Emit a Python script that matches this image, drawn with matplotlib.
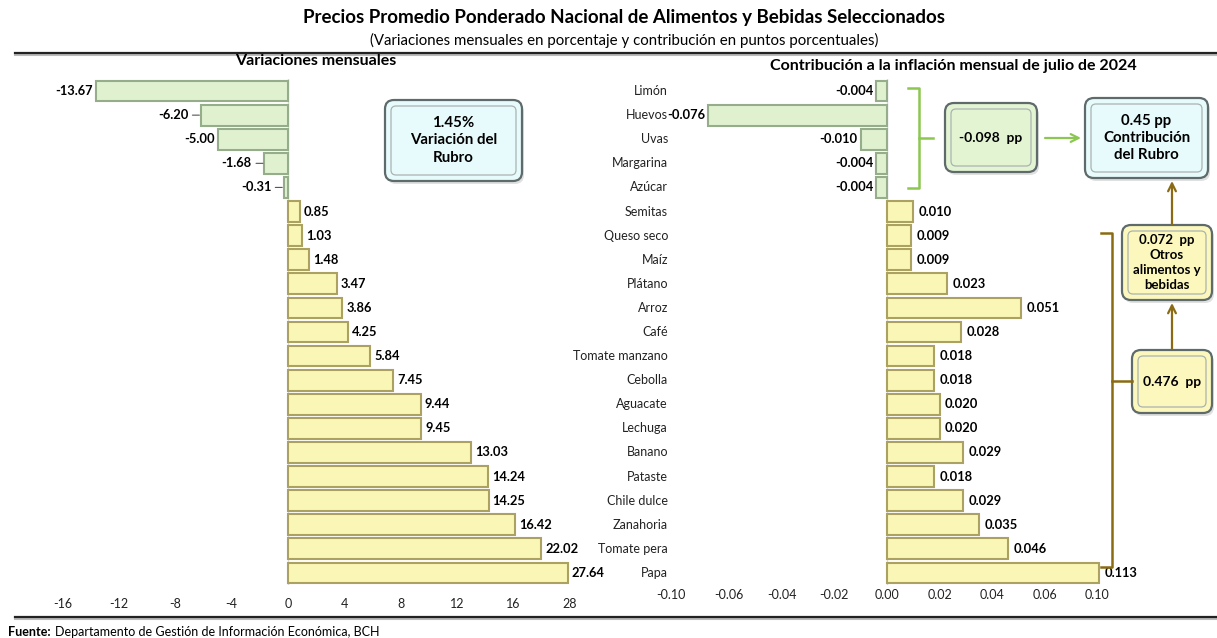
import numpy as np
import matplotlib
matplotlib.use('Agg')
import matplotlib.pyplot as plt
import matplotlib.transforms as mtransforms
from matplotlib.patches import FancyBboxPatch

plt.rcParams['font.family'] = ['Lato', 'DejaVu Sans']

# --- data ---
categories = ['Limón', 'Huevos', 'Uvas', 'Margarina', 'Azúcar', 'Semitas', 'Queso seco',
              'Maíz', 'Plátano', 'Arroz', 'Café', 'Tomate manzano', 'Cebolla', 'Aguacate',
              'Lechuga', 'Banano', 'Pataste', 'Chile dulce', 'Zanahoria', 'Tomate pera', 'Papa']
variacion = [-13.67, -6.20, -5.00, -1.68, -0.31, 0.85, 1.03, 1.48, 3.47, 3.86, 4.25, 5.84,
             7.45, 9.44, 9.45, 13.03, 14.24, 14.25, 16.42, 22.02, 27.64]
contribucion = [-0.004, -0.076, -0.010, -0.004, -0.004, 0.010, 0.009, 0.009, 0.023, 0.051,
                0.028, 0.018, 0.018, 0.020, 0.020, 0.029, 0.018, 0.029, 0.035, 0.046, 0.113]
var_ticks = [-16, -12, -8, -4, 0, 4, 8, 12, 16, 28]
con_ticks = [-0.10, -0.06, -0.04, -0.02, 0.00, 0.02, 0.04, 0.06, 0.10]

W, H = 1217, 638
fig = plt.figure(figsize=(W / 100, H / 100), dpi=100)

GREEN_FACE, GREEN_EDGE = '#e0f1d0', '#95ad8b'
YELLOW_FACE, YELLOW_EDGE = '#faf6b6', '#aba262'


def piecewise(xs, ys):
    xs = np.asarray(xs, float)
    ys = np.asarray(ys, float)
    return (lambda v: np.interp(v, xs, ys)), (lambda v: np.interp(v, ys, xs))


def rect(x0, y0, x1, y1):
    return [x0 / W, 1 - y1 / H, (x1 - x0) / W, (y1 - y0) / H]


def bars(ax, vals):
    for i, v in enumerate(vals):
        face, edge = (GREEN_FACE, GREEN_EDGE) if v < 0 else (YELLOW_FACE, YELLOW_EDGE)
        ax.barh(i, v, height=0.86, color=face, edgecolor=edge, linewidth=1.5, zorder=3)
    ax.set_ylim(len(vals) - 0.5, -0.5)
    ax.axvline(0, color='#d8d8d8', linewidth=1, zorder=1)
    for s in ax.spines.values():
        s.set_visible(False)
    ax.set_yticks([])
    ax.tick_params(axis='x', length=0, labelsize=9, colors='#222222')


# --- left panel: monthly variations ---
ax1 = fig.add_axes(rect(35, 79, 600, 585))
fwd, inv = piecewise([-100, 16, 22.02, 28, 100], [-100, 16, 18, 20, 44.08])
ax1.set_xscale('function', functions=(fwd, inv))
bars(ax1, variacion)
ax1.set_xlim(-17.98, 34.5)
ax1.set_xticks(var_ticks)
ax1.set_xticklabels([str(t) for t in var_ticks])
ax1.tick_params(axis='x', pad=9)

leader = {1, 3, 4}
for i, v in enumerate(variacion):
    if v < 0:
        if i in leader:
            ax1.annotate(f'{v:.2f}', xy=(v, i), xytext=(-9, 0), textcoords='offset points',
                         ha='right', va='center', fontsize=9.3, fontweight='bold',
                         arrowprops=dict(arrowstyle='-', color='#555555', lw=0.8,
                                         shrinkA=1, shrinkB=1, relpos=(1, 0.5)))
        else:
            ax1.annotate(f'{v:.2f}', xy=(v, i), xytext=(-2, 0), textcoords='offset points',
                         ha='right', va='center', fontsize=9.3, fontweight='bold')
    else:
        ax1.annotate(f'{v:.2f}', xy=(v, i), xytext=(3, 0), textcoords='offset points',
                     ha='left', va='center', fontsize=9.3, fontweight='bold')

# --- right panel: contribution ---
ax2 = fig.add_axes(rect(640, 79, 1135, 585))
fwd2, inv2 = piecewise([-1, -0.10, -0.076, -0.06, 0.06, 0.10, 0.113, 1],
                       [-0.604, -0.082, -0.068, -0.06, 0.06, 0.08, 0.0805, 0.116])
ax2.set_xscale('function', functions=(fwd2, inv2))
bars(ax2, contribucion)
ax2.set_xlim(-0.1205, 0.458)
ax2.set_xticks(con_ticks)
ax2.set_xticklabels([f'{t:.2f}' for t in con_ticks])
ax2.tick_params(axis='x', pad=3)

for i, v in enumerate(contribucion):
    if v < 0:
        ax2.annotate(f'{v:.3f}', xy=(v, i), xytext=(-2, 0), textcoords='offset points',
                     ha='right', va='center', fontsize=9.3, fontweight='bold')
    else:
        ax2.annotate(f'{v:.3f}', xy=(v, i), xytext=(4, 0), textcoords='offset points',
                     ha='left', va='center', fontsize=9.3, fontweight='bold')

trans = mtransforms.blended_transform_factory(fig.transFigure, ax2.transData)
for i, c in enumerate(categories):
    ax2.text(668 / W, i, c, transform=trans, ha='right', va='center', fontsize=9,
             color='#222222')

# --- overlay in pixel units for titles, boxes, brackets ---
ov = fig.add_axes([0, 0, 1, 1], zorder=10)
ov.set_xlim(0, W)
ov.set_ylim(H, 0)
ov.axis('off')
ov.patch.set_alpha(0)

ov.text(624, 18, 'Precios Promedio Ponderado Nacional de Alimentos y Bebidas Seleccionados',
        ha='center', va='center', fontsize=13.5, fontweight='bold')
ov.text(624, 40, '(Variaciones mensuales en porcentaje y contribución en puntos porcentuales)',
        ha='center', va='center', fontsize=10.8)
ov.text(316, 61, 'Variaciones mensuales', ha='center', va='center', fontsize=11.5,
        fontweight='bold')
ov.text(953, 66, 'Contribución a la inflación mensual de julio de 2024', ha='center',
        va='center', fontsize=11.5, fontweight='bold')

for yy in (53, 617):
    ov.plot([15, W], [yy + 1.5, yy + 1.5], color='#bbbbbb', lw=1.5)
    ov.plot([15, W], [yy, yy], color='#222222', lw=1.6)

ov.text(8, 632, 'Fuente:', ha='left', va='center', fontsize=9, fontweight='bold')
ov.text(55, 632, 'Departamento de Gestión de Información Económica, BCH', ha='left',
        va='center', fontsize=9)


def box(x0, y0, x1, y1, face, lines, fs=10.8):
    w, h = x1 - x0, y1 - y0
    ov.add_patch(FancyBboxPatch((x0 + 2, y0 + 3), w, h, boxstyle='round,pad=0,rounding_size=9',
                                facecolor='#000000', alpha=0.12, edgecolor='none'))
    ov.add_patch(FancyBboxPatch((x0, y0), w, h, boxstyle='round,pad=0,rounding_size=9',
                                facecolor=face, edgecolor='#5f6b6b', linewidth=1.6))
    ov.add_patch(FancyBboxPatch((x0 + 6, y0 + 6), w - 12, h - 12,
                                boxstyle='round,pad=0,rounding_size=5',
                                facecolor='none', edgecolor='#a9b3b0', linewidth=0.9))
    ov.text((x0 + x1) / 2, (y0 + y1) / 2, '\n'.join(lines), ha='center', va='center',
            fontsize=fs, fontweight='bold', linespacing=1.3)


box(385, 100, 522, 181, '#e8fbfc', ['1.45%', 'Variación del', 'Rubro'])
box(945, 103, 1037, 172, '#e3f4d3', ['-0.098  pp'], fs=10)
box(1085, 98, 1208, 178, '#e8fbfc', ['0.45 pp', 'Contribución', 'del Rubro'])
box(1122, 225, 1212, 300, '#fcf8bd', ['0.072  pp', 'Otros', 'alimentos y', 'bebidas'], fs=9.5)
box(1132, 350, 1212, 413, '#fcf8bd', ['0.476  pp'], fs=10)

GREEN_LINE = '#8cc751'
BROWN_LINE = '#8a6a12'
ov.plot([908, 919, 919, 908], [88, 88, 188, 188], color=GREEN_LINE, lw=1.8)
ov.plot([919, 933], [138, 138], color=GREEN_LINE, lw=1.8)
ov.annotate('', xy=(1081, 138), xytext=(1045, 138),
            arrowprops=dict(arrowstyle='->', color=GREEN_LINE, lw=1.6,
                            mutation_scale=14, shrinkA=0, shrinkB=0))

ov.plot([1101, 1112, 1112, 1101], [233, 233, 567, 567], color=BROWN_LINE, lw=1.8)
ov.plot([1112, 1132], [381, 381], color=BROWN_LINE, lw=1.8)
ov.annotate('', xy=(1172, 303), xytext=(1172, 349),
            arrowprops=dict(arrowstyle='->', color=BROWN_LINE, lw=1.6,
                            mutation_scale=14, shrinkA=0, shrinkB=0))
ov.annotate('', xy=(1172, 181), xytext=(1172, 224),
            arrowprops=dict(arrowstyle='->', color=BROWN_LINE, lw=1.6,
                            mutation_scale=14, shrinkA=0, shrinkB=0))

fig.savefig('out.png', dpi=100)
